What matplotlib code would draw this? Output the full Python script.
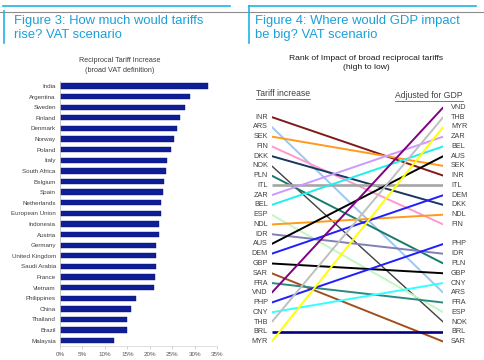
import matplotlib
matplotlib.use('Agg')
import matplotlib.pyplot as plt
from matplotlib.lines import Line2D

plt.rcParams['font.family'] = ['Liberation Sans', 'DejaVu Sans']

W, H = 485, 360

# Figure 3 data: reciprocal tariff increase (broad VAT definition), %
countries = ["India", "Argentina", "Sweden", "Finland", "Denmark", "Norway", "Poland",
             "Italy", "South Africa", "Belgium", "Spain", "Netherlands", "European Union",
             "Indonesia", "Austria", "Germany", "United Kingdom", "Saudi Arabia", "France",
             "Vietnam", "Philippines", "China", "Thailand", "Brazil", "Malaysia"]
tariff_increase = [33.0, 29.0, 27.9, 26.7, 26.1, 25.4, 24.8,
                   23.7, 23.5, 23.2, 23.0, 22.4, 22.4,
                   22.1, 22.1, 21.4, 21.4, 21.3, 21.2,
                   21.0, 16.9, 15.8, 14.8, 14.8, 12.1]
pct_ticks = [0, 5, 10, 15, 20, 25, 30, 35]

# Figure 4 data: rank slots (blank = empty slot)
left_rank = ["", "INR", "ARS", "SEK", "FIN", "DKK", "NOK", "PLN", "ITL", "ZAR", "BEL", "ESP",
             "NDL", "IDR", "AUS", "DEM", "GBP", "SAR", "FRA", "VND", "PHP", "CNY", "THB",
             "BRL", "MYR"]
right_rank = ["VND", "THB", "MYR", "ZAR", "BEL", "AUS", "SEK", "INR", "ITL", "DEM", "DKK",
              "NDL", "FIN", "", "PHP", "IDR", "PLN", "GBP", "CNY", "ARS", "FRA", "ESP",
              "NOK", "BRL", "SAR"]
line_colors = {
    "INR": "#7F1A1A", "ARS": "#9DC6F2", "SEK": "#FF9A1A", "FIN": "#FF99CC",
    "DKK": "#17375E", "NOK": "#404040", "PLN": "#1A7A6A", "ITL": "#A6A6A6",
    "ZAR": "#CC99FF", "BEL": "#22EEEE", "ESP": "#C2F7C2", "NDL": "#FF9A1A",
    "IDR": "#8080B4", "AUS": "#000000", "DEM": "#1E1EFF", "GBP": "#000000",
    "SAR": "#A0501E", "FRA": "#2A8A80", "VND": "#800080", "PHP": "#1E1EFF",
    "CNY": "#33FFFF", "THB": "#BFBFBF", "BRL": "#000080", "MYR": "#FFFF00",
}

TITLE_C = "#1AA0DA"
LINE_C = "#1EB4E6"

fig = plt.figure(figsize=(W / 100, H / 100), dpi=100)


def rect(x0, y0, x1, y1):
    return [x0 / W, 1 - y1 / H, (x1 - x0) / W, (y1 - y0) / H]


def hline(x0, x1, y, color, lw):
    fig.add_artist(Line2D([x0 / W, x1 / W], [1 - y / H, 1 - y / H],
                          transform=fig.transFigure, color=color, lw=lw))


def vline(x, y0, y1, color, lw):
    fig.add_artist(Line2D([x / W, x / W], [1 - y0 / H, 1 - y1 / H],
                          transform=fig.transFigure, color=color, lw=lw))


# header decorations
hline(3, 230, 5.5, LINE_C, 1.2)
hline(249, 476, 5.5, LINE_C, 1.2)
hline(0, 485, 11.5, "#8C8C8C", 0.8)
vline(4.5, 11, 43, LINE_C, 1.2)
vline(249, 5.5, 43, LINE_C, 1.2)

fig.text(14 / W, 1 - 21 / H, "Figure 3: How much would tariffs", fontsize=9.4,
         color=TITLE_C, va='center')
fig.text(14 / W, 1 - 35 / H, "rise? VAT scenario", fontsize=9.4, color=TITLE_C, va='center')
fig.text(255 / W, 1 - 21 / H, "Figure 4: Where would GDP impact", fontsize=9.4,
         color=TITLE_C, va='center')
fig.text(255 / W, 1 - 35 / H, "be big? VAT scenario", fontsize=9.4, color=TITLE_C, va='center')

# ---- Figure 3: bar chart ----
ax = fig.add_axes(rect(60, 80.7, 217.3, 346))
y = list(range(len(countries)))
ax.barh(y, tariff_increase, height=0.5, color="#0F1E96", edgecolor="#0A1470", lw=0.3)
ax.set_ylim(len(countries) - 0.5, -0.5)
ax.set_xlim(0, 35)
ax.set_yticks(y)
ax.set_yticklabels(countries, fontsize=4.5, color="#404040")
ax.set_xticks(pct_ticks)
ax.set_xticklabels([f"{t}%" for t in pct_ticks], fontsize=4.5, color="#595959")
ax.tick_params(axis='y', length=0, pad=3)
ax.tick_params(axis='x', length=2, width=0.5, color="#BFBFBF", pad=2)
for s in ["top", "right"]:
    ax.spines[s].set_visible(False)
ax.spines["left"].set_color("#BFBFBF")
ax.spines["bottom"].set_color("#D9D9D9")
ax.spines["left"].set_linewidth(0.6)
ax.spines["bottom"].set_linewidth(0.6)
fig.text(120 / W, 1 - 61 / H, "Reciprocal Tariff Increase", fontsize=5.2,
         color="#404040", ha='center', va='center')
fig.text(120 / W, 1 - 70.5 / H, "(broad VAT definition)", fontsize=5.2,
         color="#404040", ha='center', va='center')

# ---- Figure 4: slope chart ----
ax2 = fig.add_axes(rect(271.7, 107.3 - 4.88, 443.3, 341.6 + 4.88))
ax2.set_xlim(0, 1)
ax2.set_ylim(len(right_rank) - 0.5, -0.5)
ax2.axis('off')
for code in left_rank:
    if not code:
        continue
    yl = left_rank.index(code)
    yr = right_rank.index(code)
    lw = 1.9 if code in ("ITL", "BRL") else 1.4
    if code == "NOK":
        lw = 1.0
    ax2.plot([0, 1], [yl, yr], color=line_colors[code], lw=lw, solid_capstyle='butt')
    ax2.text(-0.022, yl, code, fontsize=5.2, color="#404040", ha='right', va='center')
for i, code in enumerate(right_rank):
    if code:
        ax2.text(1.045, i, code, fontsize=5.2, color="#404040", ha='left', va='center')

fig.text(366 / W, 1 - 58 / H, "Rank of Impact of broad reciprocal tariffs", fontsize=6.1,
         color="#1A1A1A", ha='center', va='center')
fig.text(366 / W, 1 - 67.5 / H, "(high to low)", fontsize=6.1,
         color="#1A1A1A", ha='center', va='center')

t1 = fig.text(256 / W, 1 - 93.5 / H, "Tariff increase", fontsize=6.2, color="#404040",
              va='center')
t2 = fig.text(463 / W, 1 - 95.5 / H, "Adjusted for GDP", fontsize=6.2, color="#404040",
              va='center', ha='right')
renderer = fig.canvas.get_renderer()
for t in (t1, t2):
    bb = t.get_window_extent(renderer)
    fig.add_artist(Line2D([bb.x0 / W, bb.x1 / W], [(bb.y0 - 0.5) / H, (bb.y0 - 0.5) / H],
                          transform=fig.transFigure, color="#404040", lw=0.5))

fig.savefig("out.png", dpi=100)
